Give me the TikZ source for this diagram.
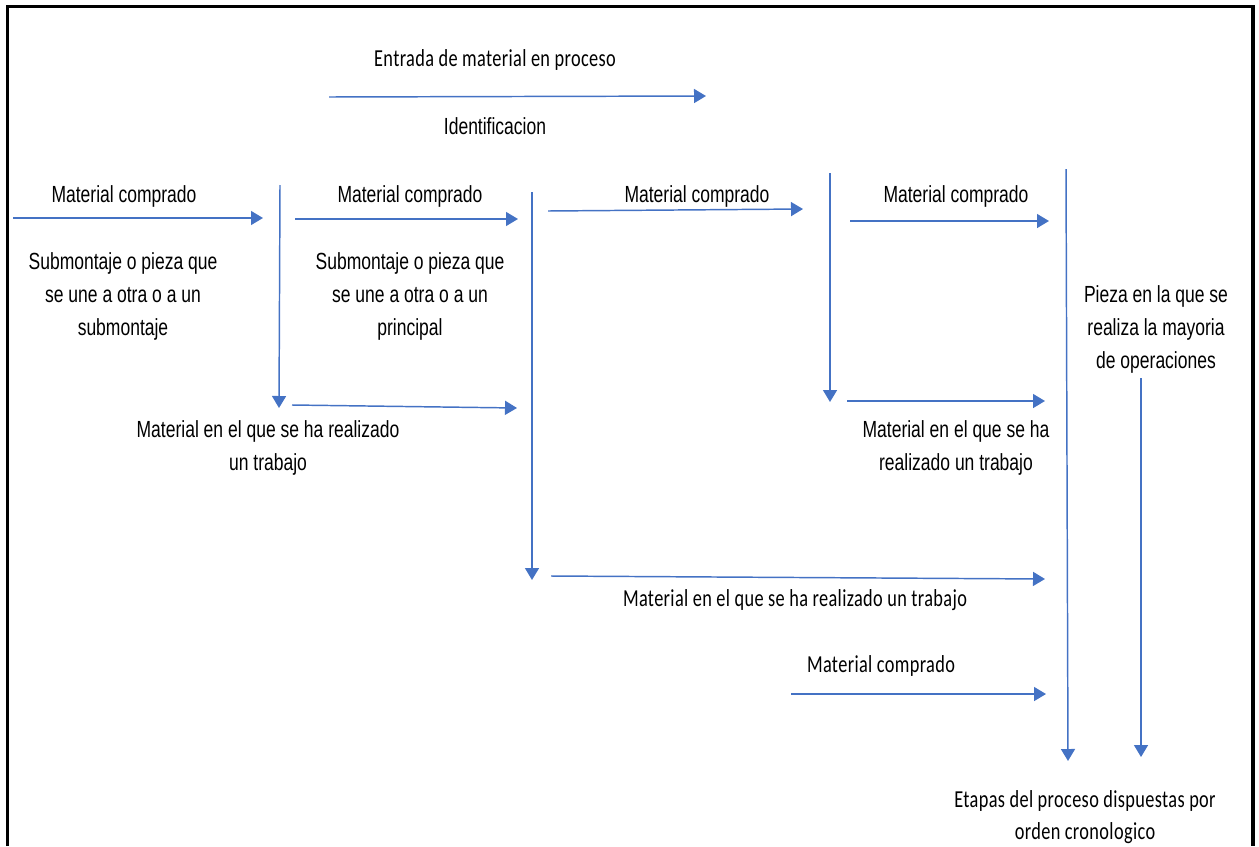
\documentclass[tikz,border=0pt]{standalone}
\usepackage{fontspec}
\usetikzlibrary{arrows.meta}
\definecolor{flowblue}{RGB}{68,114,196}
\newfontfamily\narrowsf[FakeStretch=0.75]{Liberation Sans}
\newfontfamily\spacedsf[FakeStretch=0.75,LetterSpace=1.5]{Carlito}

\begin{document}
\begin{tikzpicture}[x=0.75pt,y=-0.75pt,
txt/.style={font=\narrowsf\fontsize{17.5}{24.75}\selectfont,anchor=base,inner sep=0pt,align=center},
txtc/.style={font=\spacedsf\fontsize{18.3}{23.8}\selectfont,anchor=base,inner sep=0pt,align=center},
flow/.style={-{Triangle[length=9pt,width=10.5pt]},line width=1.1pt,draw=flowblue},
frame/.style={line width=2.3pt,draw=black}]
\useasboundingbox(0,0)rectangle(1259,846);
\draw[frame](7.5,846)--(7.5,6.7)--(1253,6.7)--(1253,846);

% labels (base = last line)
\node[txtc](entrada)at(495,66){Entrada de material en proceso};
\node[txt](ident)at(495,134){Identificacion};
\node[txt](comp1)at(124,202){Material comprado};
\node[txt](comp2)at(410,202){Material comprado};
\node[txt](comp3)at(697,202){Material comprado};
\node[txt](comp4)at(956,202){Material comprado};
\node[txtc](comp5)at(881,672){Material comprado};
\node[txt](sub1)at(123,335){Submontaje o pieza que\\se une a otra o a un\\submontaje};
\node[txt](sub2)at(410,335){Submontaje o pieza que\\se une a otra o a un\\principal};
\node[txt](trab1)at(268,470){Material en el que se ha realizado\\un trabajo};
\node[txt](trab2)at(956,470){Material en el que se ha\\realizado un trabajo};
\node[txtc](trab3)at(795,606){Material en el que se ha realizado un trabajo};
\node[txt](pieza)at(1156,368){Pieza en la que se\\realiza la mayoria\\de operaciones};
\node[txtc](etapas)at(1085,839){Etapas del proceso dispuestas por\\orden cronologico};

% arrow ends
\coordinate(in0)at(329,97);   \coordinate(in1)at(706,96);
\coordinate(c1a)at(13,218);   \coordinate(c1b)at(263,218);
\coordinate(c2a)at(295,219);  \coordinate(c2b)at(518,219);
\coordinate(c3a)at(548,211);  \coordinate(c3b)at(803,209);
\coordinate(c4a)at(850,221);  \coordinate(c4b)at(1049,221);
\coordinate(c5a)at(791,694);  \coordinate(c5b)at(1046,694);
\coordinate(v1a)at(280,185);  \coordinate(v1b)at(279,408);
\coordinate(v2a)at(532,192);  \coordinate(v2b)at(532,580);
\coordinate(v3a)at(830,173);  \coordinate(v3b)at(830,402);
\coordinate(v4a)at(1066,169); \coordinate(v4b)at(1068,761);
\coordinate(v5a)at(1141,378); \coordinate(v5b)at(1141,757);
\coordinate(t1a)at(292,405);  \coordinate(t1b)at(517,408);
\coordinate(t2a)at(847,401);  \coordinate(t2b)at(1045,401);
\coordinate(t3a)at(551,576);  \coordinate(t3b)at(1045,579);

\foreach \s/\e in {in0/in1,c1a/c1b,c2a/c2b,c3a/c3b,c4a/c4b,c5a/c5b,v1a/v1b,v2a/v2b,v3a/v3b,v4a/v4b,v5a/v5b,t1a/t1b,t2a/t2b,t3a/t3b}
 \draw[flow](\s)--(\e);
\end{tikzpicture}
\end{document}
